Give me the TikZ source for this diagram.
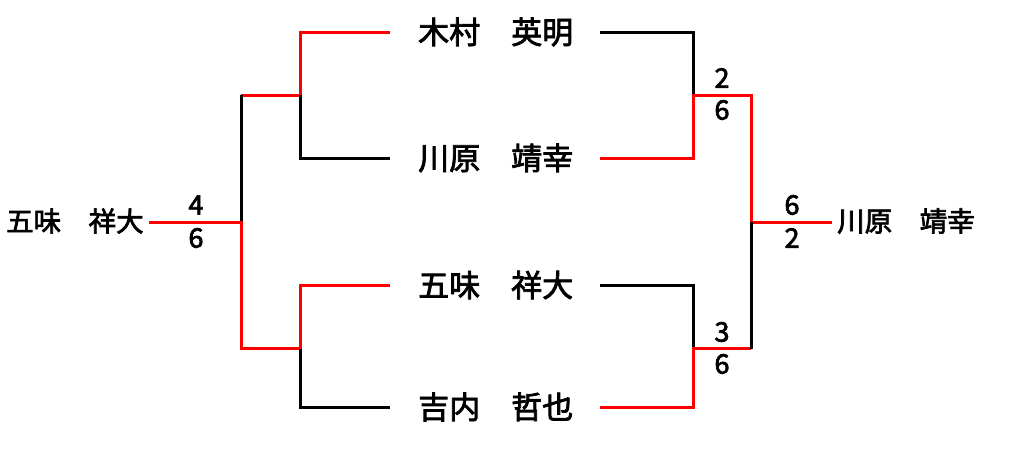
\documentclass[tikz,border=0pt]{standalone}
\usepackage{fontspec}
\setmainfont[FakeBold=2.5]{Noto Sans CJK JP}
\begin{document}
\begin{tikzpicture}[x=1pt,y=-1pt,
  win/.style={draw=red,line width=3pt,line join=miter},
  lose/.style={draw=black,line width=3pt,line join=miter},
  player/.style={font=\fontsize{31}{31}\selectfont, inner sep=0pt, anchor=west},
  champ/.style={font=\fontsize{27.5}{27.5}\selectfont, inner sep=0pt, anchor=west},
  score/.style={font=\fontsize{27}{27}\selectfont, inner sep=0pt}]
\useasboundingbox (0,0) rectangle (1024,455);
% players
\node[player] (p1) at (418,32) {木村　英明};
\node[player] (p2) at (418,158) {川原　靖幸};
\node[player] (p3) at (418,285) {五味　祥大};
\node[player] (p4) at (418,407) {吉内　哲也};
\node[champ] (lw) at (6,221) {五味　祥大};
\node[champ] (rw) at (837,221) {川原　靖幸};
% line ends
\coordinate (l1) at (390,32);  \coordinate (r1) at (600,32);
\coordinate (l2) at (390,158); \coordinate (r2) at (600,158);
\coordinate (l3) at (390,285); \coordinate (r3) at (600,285);
\coordinate (l4) at (390,407); \coordinate (r4) at (600,407);
% left junctions
\coordinate (la) at (300,95);  \coordinate (lb) at (300,348.7);
\coordinate (lA) at (241,95);  \coordinate (lB) at (241,348.7);
\coordinate (lc) at (241,222); \coordinate (lend) at (149,222);
% right junctions
\coordinate (ra) at (693,95);  \coordinate (rb) at (693,348.7);
\coordinate (rA) at (751,95);  \coordinate (rB) at (751,348.7);
\coordinate (rc) at (751,222); \coordinate (rend) at (832,222);
% left bracket
\draw[win]  (l1) -| (la) -- (lA);
\draw[lose] (l2) -| (la);
\draw[lose] (lA) -- (lc);
\draw[win]  (l3) -| (lb) -- (lB) -- (lc) -- (lend);
\draw[lose] (l4) -| (lb);
% right bracket
\draw[lose] (r1) -| (ra);
\draw[win]  (r2) -| (ra) -- (rA) -- (rc) -- (rend);
\draw[lose] (r3) -| (rb);
\draw[win]  (r4) -| (rb) -- (rB);
\draw[lose] (rB) -- (rc);
% scores
\node[score] (s1) at (196,205) {4};
\node[score] (s2) at (196,238) {6};
\node[score] (s3) at (722,78) {2};
\node[score] (s4) at (722,110) {6};
\node[score] (s5) at (722,332) {3};
\node[score] (s6) at (722,364) {6};
\node[score] (s7) at (792,205) {6};
\node[score] (s8) at (792,238) {2};
\end{tikzpicture}
\end{document}
